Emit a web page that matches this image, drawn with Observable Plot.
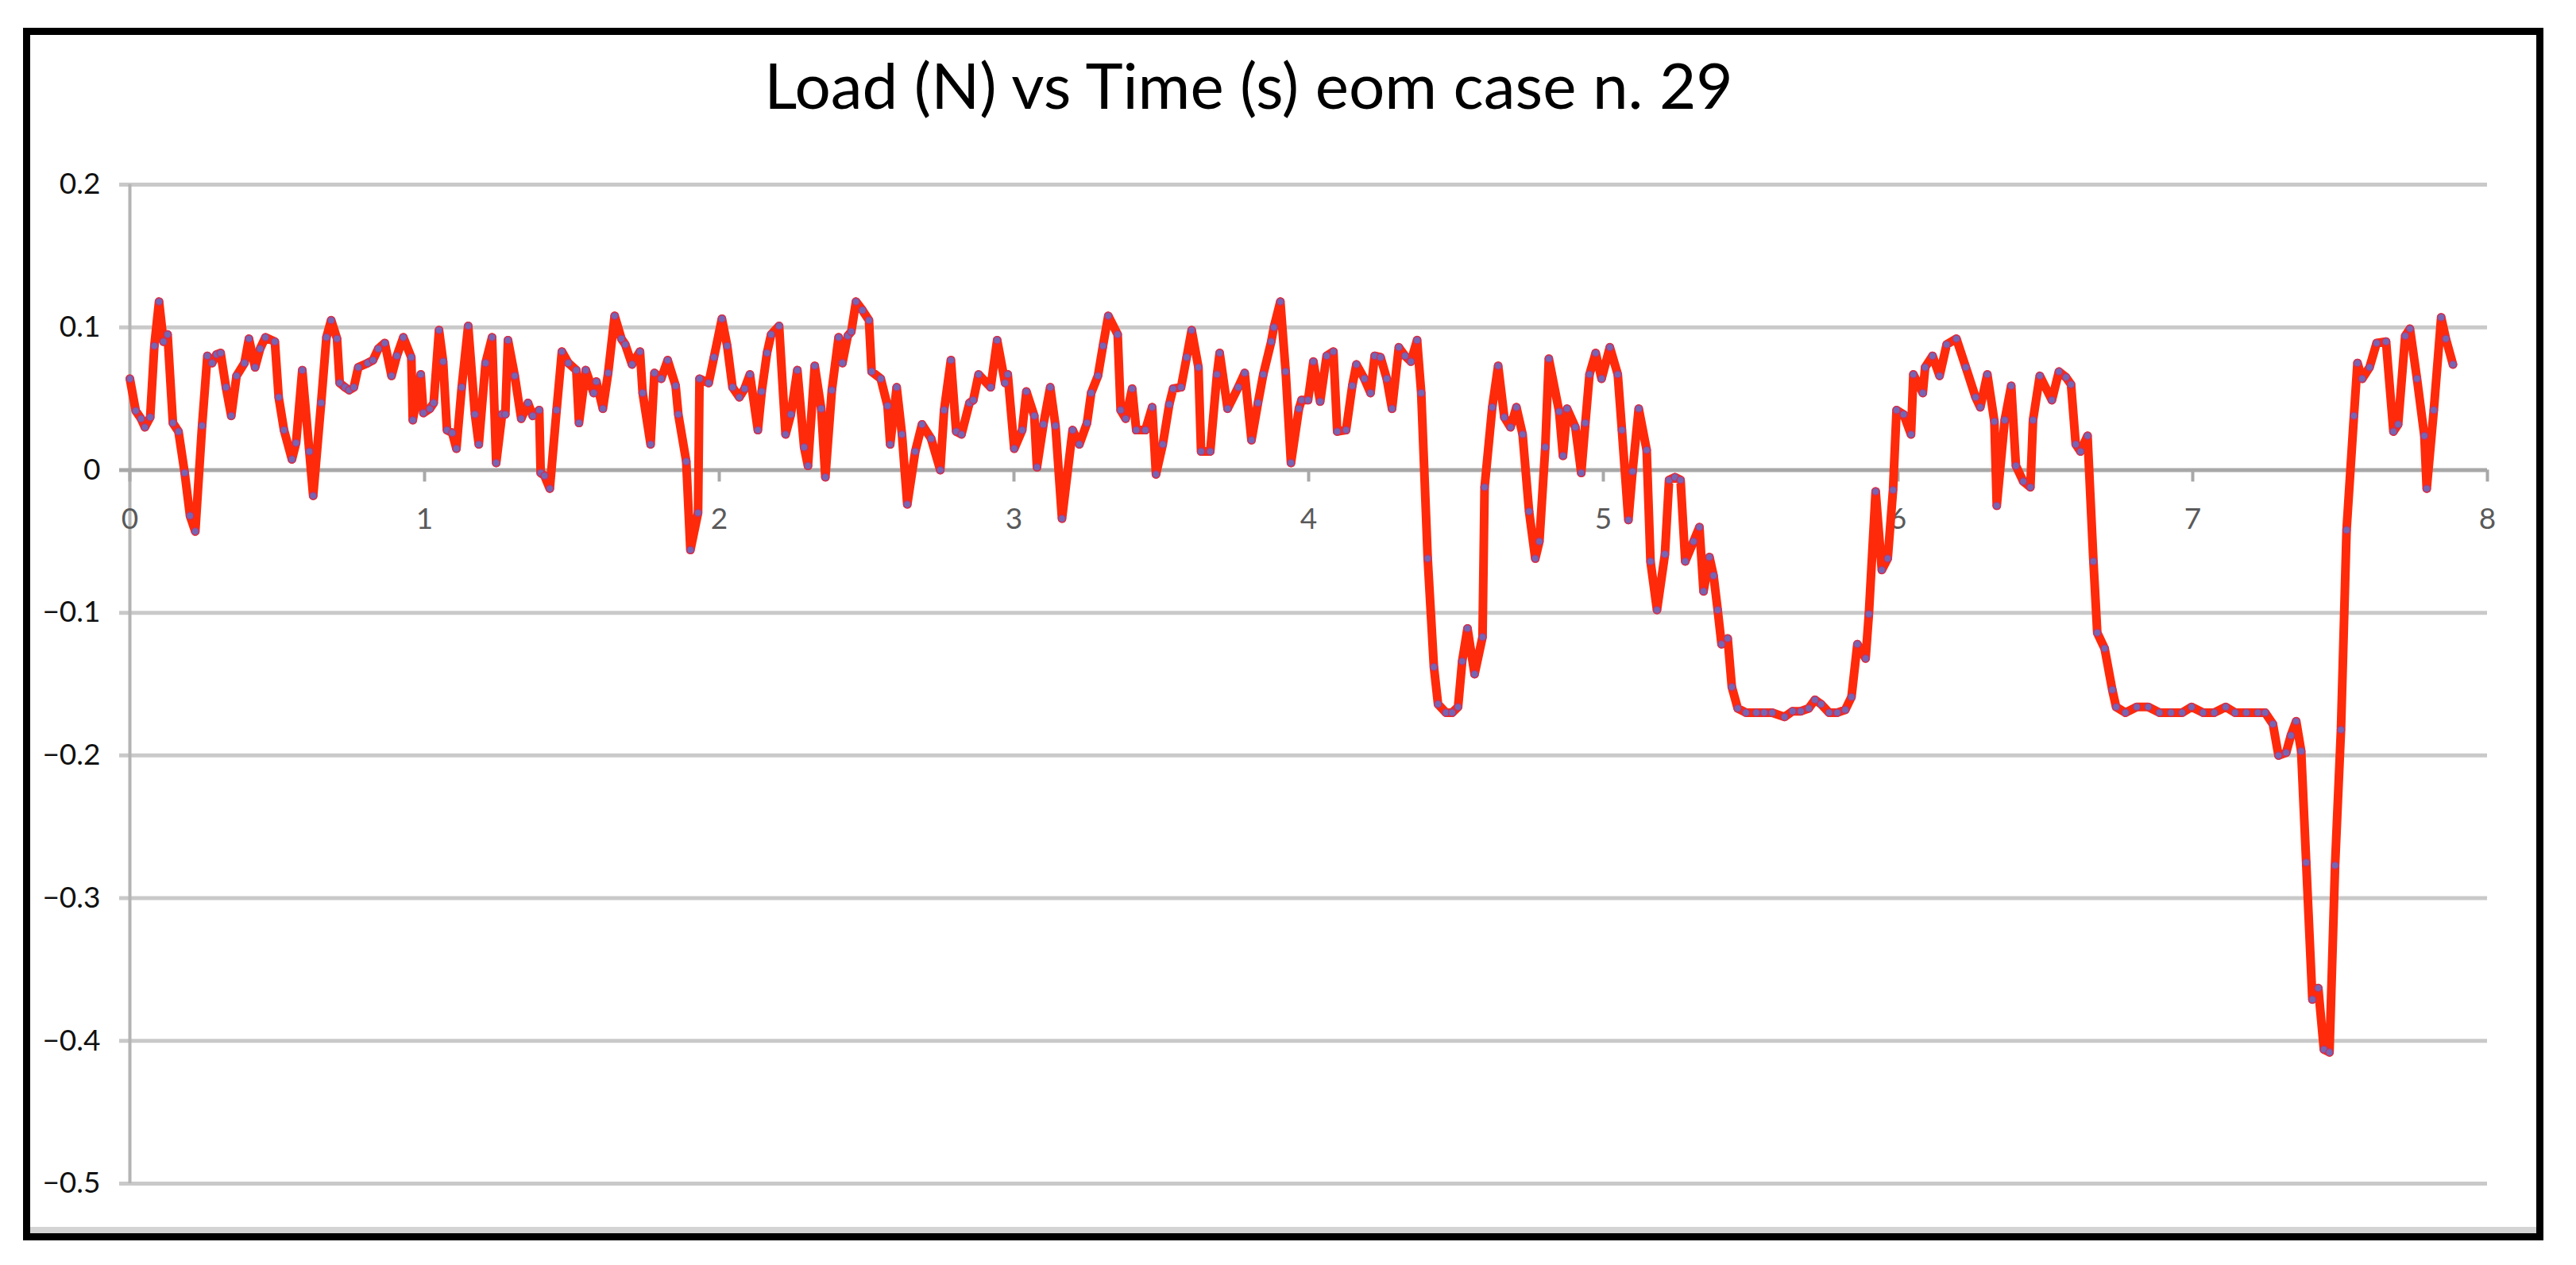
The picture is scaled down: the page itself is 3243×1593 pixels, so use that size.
<!DOCTYPE html>
<html>
<head>
<meta charset="utf-8">
<script src="https://cdn.jsdelivr.net/npm/d3@7"></script>
<script src="https://cdn.jsdelivr.net/npm/@observablehq/plot@0.6"></script>
<style>
  html, body { margin: 0; padding: 0; background: #ffffff; }
  body { width: 3243px; height: 1593px; position: relative; overflow: hidden; font-family: Lato, "Open Sans", sans-serif; }
  #frame { position: absolute; left: 29px; top: 35px; width: 3173px; height: 1527px; box-sizing: border-box; border: 9px solid #000; background: #fff; }
  #strip { position: absolute; left: 38px; top: 1545px; width: 3155px; height: 8px; background: #d4d4d4; }
  #title { position: absolute; left: 0; width: 3144px; top: 66px; text-align: center; font-size: 80px; line-height: 80px; color: #000; white-space: nowrap; }
  #chart { position: absolute; left: 38px; top: 150px; }
</style>
</head>
<body>
<div id="frame"></div>
<div id="strip"></div>
<div id="title">Load (N) vs Time (s) eom case n. 29</div>
<div id="chart"></div>
<script>
const times = [
  0, 0.020, 0.038, 0.051, 0.069, 0.083, 0.099, 0.114, 0.128, 0.146, 0.165, 0.186, 0.204, 0.222, 0.245, 0.263, 0.279, 0.294, 0.308, 0.326,
  0.344, 0.362, 0.389, 0.404, 0.425, 0.442, 0.460, 0.492, 0.505, 0.523, 0.550, 0.564, 0.585, 0.609, 0.622, 0.649, 0.667, 0.683, 0.703, 0.712,
  0.730, 0.744, 0.760, 0.775, 0.807, 0.825, 0.843, 0.865, 0.888, 0.906, 0.928, 0.955, 0.960, 0.987, 0.996, 1.018, 1.031, 1.049, 1.063, 1.076,
  1.094, 1.108, 1.126, 1.148, 1.171, 1.184, 1.207, 1.229, 1.243, 1.263, 1.274, 1.283, 1.306, 1.328, 1.351, 1.367, 1.389, 1.394, 1.407, 1.425,
  1.448, 1.466, 1.488, 1.515, 1.524, 1.547, 1.574, 1.583, 1.605, 1.623, 1.645, 1.668, 1.681, 1.704, 1.731, 1.740, 1.767, 1.780, 1.803, 1.825,
  1.852, 1.861, 1.888, 1.902, 1.928, 1.933, 1.964, 1.982, 2.009, 2.027, 2.045, 2.068, 2.086, 2.104, 2.131, 2.144, 2.162, 2.176, 2.203, 2.225,
  2.243, 2.265, 2.288, 2.301, 2.324, 2.346, 2.360, 2.382, 2.405, 2.418, 2.436, 2.448, 2.464, 2.486, 2.508, 2.517, 2.548, 2.571, 2.580, 2.602,
  2.620, 2.638, 2.665, 2.688, 2.719, 2.750, 2.763, 2.786, 2.804, 2.822, 2.849, 2.862, 2.880, 2.921, 2.943, 2.970, 2.979, 3.001, 3.028, 3.042,
  3.069, 3.078, 3.100, 3.123, 3.141, 3.163, 3.199, 3.222, 3.248, 3.262, 3.285, 3.302, 3.320, 3.352, 3.362, 3.379, 3.401, 3.415, 3.446, 3.469,
  3.482, 3.505, 3.527, 3.540, 3.567, 3.586, 3.603, 3.626, 3.635, 3.666, 3.689, 3.698, 3.725, 3.761, 3.783, 3.806, 3.828, 3.846, 3.873, 3.882,
  3.904, 3.922, 3.940, 3.967, 3.976, 3.998, 4.016, 4.039, 4.061, 4.084, 4.097, 4.127, 4.148, 4.162, 4.189, 4.210, 4.224, 4.244, 4.265, 4.283,
  4.306, 4.327, 4.347, 4.368, 4.382, 4.404, 4.425, 4.439, 4.466, 4.487, 4.507, 4.521, 4.539, 4.563, 4.590, 4.597, 4.623, 4.643, 4.664, 4.685,
  4.705, 4.726, 4.748, 4.769, 4.783, 4.803, 4.815, 4.850, 4.863, 4.877, 4.905, 4.925, 4.939, 4.953, 4.974, 4.994, 5.022, 5.049, 5.063, 5.085,
  5.099, 5.120, 5.147, 5.160, 5.182, 5.209, 5.223, 5.243, 5.262, 5.278, 5.306, 5.326, 5.340, 5.360, 5.374, 5.388, 5.401, 5.422, 5.436, 5.456,
  5.484, 5.519, 5.546, 5.573, 5.615, 5.642, 5.670, 5.697, 5.718, 5.739, 5.766, 5.794, 5.821, 5.842, 5.862, 5.890, 5.901, 5.924, 5.945, 5.965,
  5.983, 5.995, 6.019, 6.044, 6.052, 6.084, 6.092, 6.117, 6.141, 6.165, 6.198, 6.230, 6.263, 6.279, 6.303, 6.327, 6.335, 6.362, 6.384, 6.400,
  6.425, 6.449, 6.458, 6.481, 6.522, 6.546, 6.570, 6.587, 6.603, 6.619, 6.643, 6.663, 6.676, 6.701, 6.727, 6.740, 6.772, 6.810, 6.849, 6.887,
  6.926, 6.964, 6.996, 7.035, 7.073, 7.112, 7.144, 7.182, 7.221, 7.246, 7.272, 7.291, 7.317, 7.333, 7.351, 7.368, 7.385, 7.406, 7.426, 7.445,
  7.464, 7.483, 7.503, 7.522, 7.547, 7.559, 7.575, 7.600, 7.624, 7.656, 7.681, 7.697, 7.721, 7.737, 7.761, 7.786, 7.794, 7.818, 7.843, 7.859,
  7.883
];
const loads = [
  0.064, 0.0415, 0.036, 0.030, 0.037, 0.087, 0.118, 0.090, 0.095, 0.033, 0.027, -0.002, -0.032, -0.043, 0.031, 0.080, 0.075, 0.081, 0.082, 0.058,
  0.038, 0.066, 0.075, 0.092, 0.072, 0.085, 0.093, 0.090, 0.051, 0.028, 0.0075, 0.019, 0.070, 0.013, -0.018, 0.047, 0.093, 0.105, 0.092, 0.061,
  0.058, 0.056, 0.058, 0.072, 0.075, 0.077, 0.085, 0.089, 0.066, 0.080, 0.093, 0.079, 0.035, 0.067, 0.040, 0.043, 0.047, 0.098, 0.076, 0.028,
  0.026, 0.015, 0.058, 0.101, 0.039, 0.018, 0.075, 0.093, 0.005, 0.039, 0.039, 0.091, 0.066, 0.036, 0.047, 0.038, 0.042, -0.002, -0.004, -0.013,
  0.042, 0.083, 0.075, 0.070, 0.033, 0.070, 0.054, 0.062, 0.043, 0.068, 0.108, 0.092, 0.088, 0.074, 0.083, 0.054, 0.018, 0.068, 0.064, 0.077,
  0.059, 0.039, 0.006, -0.056, -0.030, 0.064, 0.061, 0.079, 0.106, 0.087, 0.058, 0.051, 0.057, 0.067, 0.028, 0.055, 0.082, 0.095, 0.101, 0.025,
  0.039, 0.070, 0.016, 0.003, 0.073, 0.043, -0.005, 0.056, 0.093, 0.075, 0.094, 0.097, 0.118, 0.112, 0.105, 0.069, 0.064, 0.045, 0.018, 0.058,
  0.025, -0.024, 0.013, 0.032, 0.022, 0.000, 0.042, 0.077, 0.027, 0.025, 0.047, 0.049, 0.067, 0.058, 0.091, 0.061, 0.067, 0.015, 0.028, 0.055,
  0.038, 0.002, 0.032, 0.058, 0.031, -0.034, 0.028, 0.018, 0.033, 0.054, 0.066, 0.087, 0.108, 0.095, 0.042, 0.036, 0.057, 0.028, 0.028, 0.044,
  -0.003, 0.018, 0.046, 0.057, 0.058, 0.079, 0.098, 0.072, 0.013, 0.013, 0.067, 0.082, 0.043, 0.058, 0.068, 0.021, 0.047, 0.067, 0.090, 0.100,
  0.118, 0.069, 0.005, 0.043, 0.049, 0.049, 0.076, 0.048, 0.080, 0.083, 0.027, 0.028, 0.059, 0.074, 0.064, 0.054, 0.080, 0.079, 0.064, 0.043,
  0.086, 0.080, 0.076, 0.091, 0.054, -0.062, -0.138, -0.164, -0.170, -0.170, -0.166, -0.134, -0.111, -0.143, -0.117, -0.012, 0.044, 0.073, 0.037, 0.030,
  0.044, 0.025, -0.029, -0.062, -0.050, 0.016, 0.078, 0.041, 0.010, 0.043, 0.030, -0.002, 0.033, 0.067, 0.082, 0.064, 0.086, 0.067, 0.028, -0.035,
  -0.001, 0.043, 0.014, -0.064, -0.098, -0.059, -0.007, -0.005, -0.007, -0.064, -0.050, -0.040, -0.085, -0.061, -0.074, -0.098, -0.122, -0.118, -0.152, -0.167,
  -0.170, -0.170, -0.170, -0.170, -0.173, -0.169, -0.169, -0.167, -0.161, -0.164, -0.170, -0.170, -0.168, -0.159, -0.122, -0.132, -0.101, -0.015, -0.070, -0.062,
  -0.014, 0.042, 0.039, 0.025, 0.067, 0.054, 0.072, 0.080, 0.066, 0.088, 0.092, 0.072, 0.051, 0.044, 0.067, 0.034, -0.025, 0.035, 0.059, 0.003,
  -0.008, -0.012, 0.035, 0.066, 0.049, 0.069, 0.065, 0.060, 0.018, 0.013, 0.024, -0.064, -0.114, -0.125, -0.154, -0.166, -0.170, -0.166, -0.166, -0.170,
  -0.170, -0.170, -0.166, -0.170, -0.170, -0.166, -0.170, -0.170, -0.170, -0.170, -0.178, -0.200, -0.198, -0.186, -0.176, -0.197, -0.275, -0.371, -0.363, -0.406,
  -0.408, -0.277, -0.182, -0.042, 0.038, 0.075, 0.064, 0.072, 0.089, 0.090, 0.027, 0.032, 0.094, 0.099, 0.064, 0.024, -0.013, 0.042, 0.107, 0.092,
  0.074
];
const xTicks = [0, 1, 2, 3, 4, 5, 6, 7, 8];
const yTicks = [0.2, 0.1, 0, -0.1, -0.2, -0.3, -0.4, -0.5];

const data = times.map((t, i) => ({t, load: loads[i]}));
const fmt = d3.format(".1~f");
const yLabel = (d) => d === 0 ? "0" : (d < 0 ? "\u2212" + fmt(-d) : fmt(d));

const chart = Plot.plot({
  width: 3154,
  height: 1395,
  marginLeft: 125,
  marginRight: 61,
  marginTop: 82,
  marginBottom: 55,
  style: {background: "transparent", fontFamily: "Lato, 'Open Sans', sans-serif", overflow: "visible"},
  x: {domain: [0, 8], axis: null},
  y: {domain: [-0.5, 0.2], axis: null},
  marks: [
    Plot.ruleY(yTicks.filter(d => d !== 0), {y: d => d, stroke: "#c9c9c9", strokeWidth: 5, insetLeft: -13}),
    Plot.ruleX([0], {x: d => d, stroke: "#b4b4b4", strokeWidth: 4}),
    Plot.ruleY([0], {y: d => d, stroke: "#a8a8a8", strokeWidth: 5, insetLeft: -13}),
    Plot.ruleX(xTicks, {x: d => d, y1: 0, y2: 0, insetBottom: -15, stroke: "#a8a8a8", strokeWidth: 4}),
    Plot.text(yTicks, {x: 0, y: d => d, text: yLabel, textAnchor: "end", dx: -37, fontSize: 37, fill: "#111"}),
    Plot.text(xTicks, {x: d => d, y: 0, text: d => String(d), dy: 62, fontSize: 37, fill: "#5a5a5a"}),
    Plot.line(data, {x: "t", y: "load", stroke: "#ff2a0a", strokeWidth: 11, curve: "linear", strokeLinejoin: "round", strokeLinecap: "round"}),
    Plot.dot(data, {x: "t", y: "load", r: 4.6, fill: "#7566b4", stroke: "#c8335e", strokeWidth: 1.5})
  ]
});
document.getElementById("chart").appendChild(chart);
</script>
</body>
</html>
